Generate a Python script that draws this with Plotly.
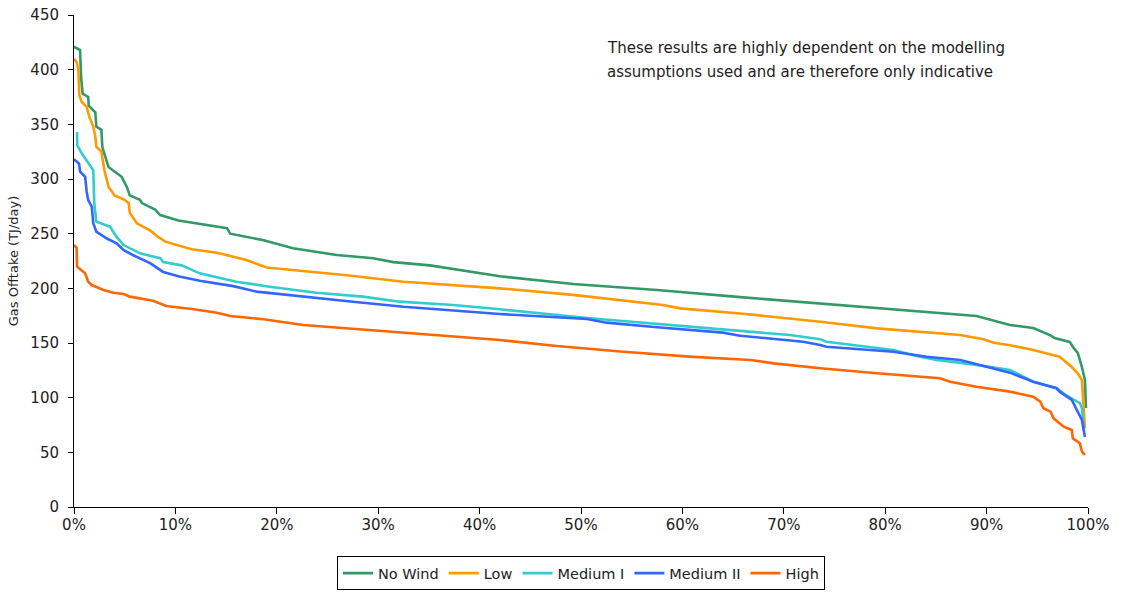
import plotly.graph_objects as go

# Load-duration curves of gas offtake for each wind scenario (x = % of time, y = TJ/day)
no_wind_x = [0, 0.6, 0.7, 0.85, 1.4, 1.45, 2.1, 2.2, 2.7, 2.8, 3.4, 4.7, 5.2, 5.5, 6.5, 6.7, 8.0, 8.5, 10.3, 15.1,
             15.4, 18.7, 21.6, 25.9, 29.5, 31.5, 35.1, 42, 49.2, 57.5, 65.7, 73.6, 89, 92.3, 94.6, 96.3, 96.7,
             98.2, 98.5, 99.0, 99.4, 99.7, 99.8]
no_wind_y = [421, 418, 393, 378, 375, 367, 361, 348, 345, 329, 311, 302, 293, 285, 281, 278, 272, 267, 262, 255,
             250, 244, 236.6, 230.5, 227.5, 224, 221, 211, 204, 198.5, 192, 186, 174.7, 166.5, 163.7, 157, 154.5,
             151, 146.6, 140.7, 128, 116, 90.5]

low_x = [0, 0.26, 0.43, 0.52, 0.75, 1.25, 1.5, 1.9, 2.1, 2.2, 2.7, 3.0, 3.4, 4.0, 5.0, 5.4, 5.5, 6.2, 7.5, 8.3,
         9.0, 11.6, 14.1, 17, 19, 23.3, 26.9, 32.5, 42, 49.2, 58.1, 59.8, 65.7, 73.6, 79.2, 87.4, 89.7, 90.7,
         92.3, 94.6, 97.2, 98.4, 99.0, 99.4, 99.5, 99.7]
low_y = [410, 407, 400, 377, 370.7, 366, 357, 348, 339, 329.5, 325, 308, 293, 285, 281, 277.8, 269, 259.5, 253,
         247, 242.7, 235.7, 232.6, 226, 219, 215, 212, 206, 200, 194, 184.8, 181.7, 177, 169.5, 163.4, 157.3,
         153.4, 150.3, 148, 143.6, 137.5, 128, 122, 116, 100, 72]

medium1_x = [0.3, 0.32, 0.76, 1.1, 1.9, 2.0, 2.2, 3.55, 4.2, 4.9, 6.5, 8.5, 8.8, 10.6, 12.4, 16, 19.3, 23.9, 28.5,
             32.1, 37.4, 42, 50.9, 60.7, 70.6, 73.6, 74.2, 80.8, 83.4, 85.1, 89, 92.3, 94.6, 96.9, 97.8, 99.2,
             99.4, 99.6]
medium1_y = [343, 331, 323.5, 319, 308, 277.8, 261, 256.4, 247, 239.6, 232, 227.5, 224, 221, 213.7, 206, 201.5,
             196, 192.4, 187.8, 184.8, 180.8, 172.6, 165, 157.3, 153.4, 151.2, 143.6, 137.5, 134.5, 130, 125.3,
             114.6, 108.6, 102.4, 95, 90.5, 70]

medium2_x = [0, 0.5, 0.6, 1.1, 1.25, 1.4, 1.75, 1.9, 2.2, 3.2, 4.2, 4.9, 5.8, 7.5, 8.8, 10.5, 12.4, 15.7, 18.0,
             22.6, 27.5, 32.5, 42, 50.6, 52.5, 57.5, 64, 65.7, 71.9, 73.6, 74.2, 80.8, 84.1, 87.4, 90.7, 92.3,
             94.6, 96.9, 97.2, 98.4, 98.9, 99.4, 99.7]
medium2_y = [318, 314, 306.7, 302, 288.4, 280.8, 274.7, 259.5, 251.8, 245.8, 241.2, 235, 230.5, 223, 215, 210.6,
             207, 202, 197, 192.4, 187.8, 183.2, 176.5, 171.9, 168.6, 164.4, 159.5, 156.7, 151.2, 148.2, 146.6,
             142, 137.5, 134.5, 126.9, 122.9, 114.6, 108.6, 105.5, 98, 88.7, 79.6, 64]

high_x = [0, 0.26, 0.3, 1.1, 1.4, 1.75, 2.9, 3.9, 4.9, 5.5, 7.8, 9.1, 11.8, 14.1, 15.4, 18.7, 22.6, 29.2, 35.8,
          42, 47.6, 54.2, 60.7, 66.7, 69, 73.6, 79.2, 85.4, 86.4, 89, 92.3, 94.6, 95.3, 95.6, 96.3, 96.6, 97.6,
          98.4, 98.5, 99.2, 99.4, 99.7]
high_y = [239.6, 237, 219.8, 213.7, 206, 203, 198.5, 196, 194.8, 192.4, 188.7, 183.9, 180.8, 177.7, 174.7, 171.7,
          166.5, 161.9, 157.3, 152.7, 147.3, 142, 137.5, 134.5, 131.4, 126.9, 122.3, 117.7, 114.6, 110, 105.5,
          100.9, 96.3, 90.3, 87.2, 81.1, 73.5, 70.4, 62.8, 58.2, 50.6, 47.6]

series = [
    ("No Wind", no_wind_x, no_wind_y, "#339966"),
    ("Low", low_x, low_y, "#FF9900"),
    ("Medium I", medium1_x, medium1_y, "#33CCCC"),
    ("Medium II", medium2_x, medium2_y, "#3366FF"),
    ("High", high_x, high_y, "#FF6600"),
]

note_lines = [
    "These results are highly dependent on the modelling",
    "assumptions used and are therefore only indicative",
]

FONT = "DejaVu Sans"

fig = go.Figure()
for name, xs, ys, color in series:
    fig.add_trace(go.Scatter(x=xs, y=ys, mode="lines", name=name,
                             line=dict(color=color, width=2.6)))

for i, line in enumerate(note_lines):
    fig.add_annotation(x=0.5237, y=0.933 - i * 0.048, xref="paper", yref="paper",
                       xanchor="left", yanchor="middle", showarrow=False, text=line,
                       font=dict(family=FONT, size=15, color="#222222"))

fig.update_layout(
    width=1121, height=592,
    margin=dict(l=74, r=33, t=15, b=85, autoexpand=False),
    paper_bgcolor="white", plot_bgcolor="white",
    font=dict(family=FONT, size=15, color="#222222"),
    showlegend=True,
    legend=dict(orientation="h", x=0.5, xanchor="center", y=-0.1, yanchor="top",
                bordercolor="#000000", borderwidth=1, font=dict(size=14.5),
                itemwidth=30, tracegroupgap=0),
)

fig.update_xaxes(range=[0, 100], dtick=10, ticksuffix="%", showgrid=False, zeroline=False,
                 showline=True, linecolor="#000000", linewidth=1,
                 ticks="outside", ticklen=6, tickcolor="#000000", ticklabelstandoff=-2)
fig.update_yaxes(range=[0, 450], dtick=50, showgrid=False, zeroline=False,
                 showline=True, linecolor="#000000", linewidth=1,
                 ticks="outside", ticklen=5, tickcolor="#000000", ticklabelstandoff=6,
                 title=dict(text="Gas Offtake (TJ/day)", font=dict(size=13), standoff=8))

fig.write_html("out.html")
